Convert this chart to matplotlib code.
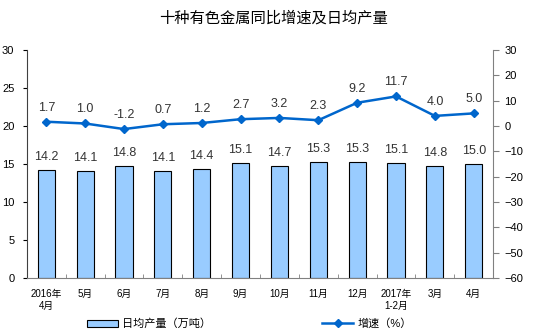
import matplotlib
matplotlib.use("Agg")
import matplotlib.pyplot as plt
from matplotlib.patches import Patch
from matplotlib.lines import Line2D

plt.rcParams['font.family'] = ['Liberation Sans', 'Noto Sans CJK SC', 'DejaVu Sans']

months = ["2016年\n4月", "5月", "6月", "7月", "8月", "9月", "10月", "11月",
          "12月", "2017年\n1-2月", "3月", "4月"]
output = [14.2, 14.1, 14.8, 14.1, 14.4, 15.1, 14.7, 15.3, 15.3, 15.1, 14.8, 15.0]
growth = [1.7, 1.0, -1.2, 0.7, 1.2, 2.7, 3.2, 2.3, 9.2, 11.7, 4.0, 5.0]

bar_color = "#99CCFF"
line_color = "#0066CC"

fig = plt.figure(figsize=(5.48, 3.34), dpi=100)
ax = fig.add_axes([0.049, 0.168, 0.851, 0.682])
x = list(range(len(months)))

ax.bar(x, output, width=0.44, color=bar_color, edgecolor="black", linewidth=0.8, zorder=2)
for xi, v in zip(x, output):
    ax.text(xi, v + 0.9, f"{v:.1f}", ha="center", va="bottom", fontsize=9, color="#333333")

ax.set_ylim(0, 30)
ax.set_yticks(range(0, 31, 5))
ax.set_xlim(-0.5, len(months) - 0.5)
ax.set_xticks(x)
ax.set_xticklabels(months, fontsize=7)
ax.set_xticks([i - 0.5 for i in range(1, len(months))], minor=True)
ax.tick_params(axis="x", which="major", length=0, pad=8)
ax.tick_params(axis="x", which="minor", length=3, direction="in", color="#808080")
ax.tick_params(axis="y", length=3, labelsize=8, pad=6)
ax.spines["top"].set_visible(False)
ax.spines["right"].set_visible(False)
ax.spines["bottom"].set_color("#808080")
ax.spines["left"].set_color("#404040")

ax2 = ax.twinx()
ax2.plot(x, growth, color=line_color, marker="D", markersize=4, linewidth=1.8, zorder=3)
for xi, v in zip(x, growth):
    ax2.text(xi, v + 3.2, f"{v:.1f}", ha="center", va="bottom", fontsize=9, color="#333333")
ax2.set_ylim(-60, 30)
ax2.set_yticks(range(-60, 31, 10))
ax2.tick_params(axis="y", length=4, labelsize=8, pad=4, color="#808080")
ax2.spines["top"].set_visible(False)
ax2.spines["left"].set_visible(False)
ax2.spines["bottom"].set_visible(False)
ax2.spines["right"].set_color("#808080")

fig.text(0.5, 0.945, "十种有色金属同比增速及日均产量", ha="center", va="center", fontsize=11)

handles = [Patch(facecolor=bar_color, edgecolor="black", linewidth=0.8),
           Line2D([0], [0], color=line_color, marker="D", markersize=4, linewidth=1.8)]
fig.legend(handles, ["日均产量（万吨）", "增速（%）"], loc="center", bbox_to_anchor=(0.455, 0.03),
           ncol=2, frameon=False, fontsize=8, columnspacing=10, handlelength=2.8,
           handletextpad=0.4)

fig.savefig("out.png", dpi=100)
